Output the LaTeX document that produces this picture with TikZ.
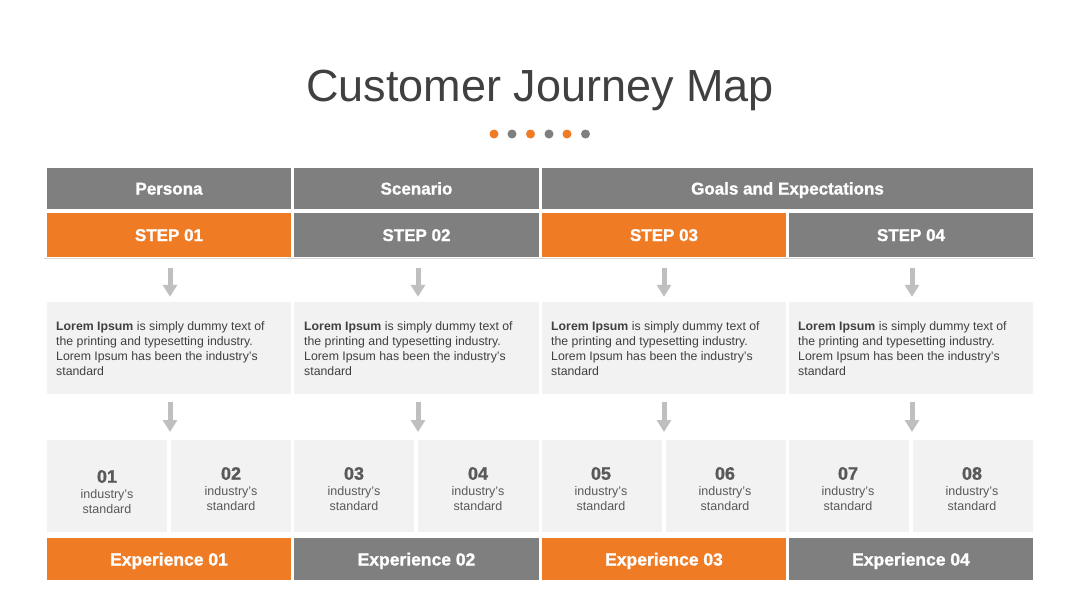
\documentclass[tikz,border=0pt]{standalone}
\usepackage{fontspec}
\setmainfont{Liberation Sans}
\newfontfamily\heavyfont{Liberation Sans}[BoldFont={Liberation Sans Bold}, BoldFeatures={FakeBold=1.2}]
\usetikzlibrary{arrows.meta}
\definecolor{jorange}{HTML}{F07B25}
\definecolor{jgray}{HTML}{7F7F7F}
\definecolor{jlight}{HTML}{F2F2F2}
\definecolor{jarrow}{HTML}{BFBFBF}
\definecolor{jtext}{HTML}{404040}
\definecolor{jnum}{HTML}{595959}
\definecolor{jline}{HTML}{D9D9D9}
\tikzset{
  bar/.style={inner sep=0pt, outer sep=0pt, text=white, text height=12pt, text depth=0pt, font=\heavyfont\bfseries\fontsize{17}{20}\selectfont},
  headbox/.style={bar, fill=jgray, minimum height=41pt},
  stepbox/.style={bar, minimum height=44pt},
  expbox/.style={bar, minimum height=42pt, minimum width=244pt, text height=13pt, font=\heavyfont\bfseries\fontsize{17.5}{20}\selectfont},
  txtbox/.style={fill=jlight, inner sep=0pt, minimum width=244pt, minimum height=92pt},
  txt/.style={text=jtext, font=\fontsize{12.3}{15}\selectfont, align=left, anchor=west, inner sep=0pt},
  numbox/.style={fill=jlight, inner sep=0pt, minimum width=120pt, minimum height=92pt},
  numtxt/.style={text=jnum, align=center, inner sep=0pt, font=\fontsize{12.5}{15}\selectfont},
  arr/.style={draw=jarrow, line width=5pt, -{Triangle[width=14pt,length=12pt]}},
  dotc/.style={circle, inner sep=0pt, minimum size=9pt}
}
\newcommand{\numlbl}[1]{{\heavyfont\bfseries\fontsize{18}{18}\selectfont #1}\\[1pt]industry’s\\standard}
\newcommand{\lorem}{\textbf{Lorem Ipsum} is simply dummy text of\\the printing and typesetting industry.\\Lorem Ipsum has been the industry’s\\standard}
\begin{document}
\begin{tikzpicture}[x=1pt,y=-1pt]
\useasboundingbox (0,0) rectangle (1080,608);
\fill[white] (0,0) rectangle (1080,608);
% title
\node[text=jtext, font=\fontsize{45}{50}\selectfont, inner sep=0pt, anchor=base] (title) at (540,101) {Customer Journey Map};
\node[dotc, fill=jorange] (d1) at (494,134) {};
\node[dotc, fill=jgray] (d2) at (512,134) {};
\node[dotc, fill=jorange] (d3) at (530.5,134) {};
\node[dotc, fill=jgray] (d4) at (549,134) {};
\node[dotc, fill=jorange] (d5) at (567,134) {};
\node[dotc, fill=jgray] (d6) at (585.5,134) {};
% header row
\node[headbox, minimum width=244pt] (h1) at (169,188.5) {Persona};
\node[headbox, minimum width=245pt] (h2) at (416.5,188.5) {Scenario};
\node[headbox, minimum width=491pt] (h3) at (787.5,188.5) {Goals and Expectations};
% step row
\draw[jline, line width=1pt] (44,258) -- (1035,258);
\node[stepbox, fill=jorange, minimum width=244pt] (s1) at (169,235) {STEP 01};
\node[stepbox, fill=jgray, minimum width=245pt] (s2) at (416.5,235) {STEP 02};
\node[stepbox, fill=jorange, minimum width=244pt] (s3) at (664,235) {STEP 03};
\node[stepbox, fill=jgray, minimum width=244pt] (s4) at (911,235) {STEP 04};
% text blocks
\node[txtbox] (t1) at (169,348) {};
\node[txtbox, minimum width=245pt] (t2) at (416.5,348) {};
\node[txtbox] (t3) at (664,348) {};
\node[txtbox] (t4) at (911,348) {};
\node[txt] (l1) at (56,348.5) {\lorem};
\node[txt] (l2) at (304,348.5) {\lorem};
\node[txt] (l3) at (551,348.5) {\lorem};
\node[txt] (l4) at (798,348.5) {\lorem};
% number cells
\node[numbox] (c1) at (107,486) {};
\node[numbox] (c2) at (231,486) {};
\node[numbox] (c3) at (354,486) {};
\node[numbox, minimum width=121pt] (c4) at (478.5,486) {};
\node[numbox] (c5) at (602,486) {};
\node[numbox] (c6) at (726,486) {};
\node[numbox] (c7) at (849,486) {};
\node[numbox] (c8) at (973,486) {};
\node[numtxt] (n1) at (107,492) {\numlbl{01}};
\node[numtxt] (n2) at (231,489) {\numlbl{02}};
\node[numtxt] (n3) at (354,489) {\numlbl{03}};
\node[numtxt] (n4) at (478,489) {\numlbl{04}};
\node[numtxt] (n5) at (601,489) {\numlbl{05}};
\node[numtxt] (n6) at (725,489) {\numlbl{06}};
\node[numtxt] (n7) at (848,489) {\numlbl{07}};
\node[numtxt] (n8) at (972,489) {\numlbl{08}};
% experience row
\node[expbox, fill=jorange] (e1) at (169,559) {Experience 01};
\node[expbox, fill=jgray, minimum width=245pt] (e2) at (416.5,559) {Experience 02};
\node[expbox, fill=jorange] (e3) at (664,559) {Experience 03};
\node[expbox, fill=jgray] (e4) at (911,559) {Experience 04};
% arrows
\coordinate (k1) at (170,440);
\coordinate (k2) at (418,440);
\coordinate (k3) at (664,440);
\coordinate (k4) at (912,440);
\draw[arr, shorten <=11pt, shorten >=5pt] ([xshift=1pt]s1.south) -- ([xshift=1pt]t1.north);
\draw[arr, shorten <=11pt, shorten >=5pt] ([xshift=1.5pt]s2.south) -- ([xshift=1.5pt]t2.north);
\draw[arr, shorten <=11pt, shorten >=5pt] (s3.south) -- (t3.north);
\draw[arr, shorten <=11pt, shorten >=5pt] ([xshift=1pt]s4.south) -- ([xshift=1pt]t4.north);
\draw[arr, shorten <=8pt, shorten >=8pt] ([xshift=1pt]t1.south) -- (k1);
\draw[arr, shorten <=8pt, shorten >=8pt] ([xshift=1.5pt]t2.south) -- (k2);
\draw[arr, shorten <=8pt, shorten >=8pt] (t3.south) -- (k3);
\draw[arr, shorten <=8pt, shorten >=8pt] ([xshift=1pt]t4.south) -- (k4);
\end{tikzpicture}
\end{document}
